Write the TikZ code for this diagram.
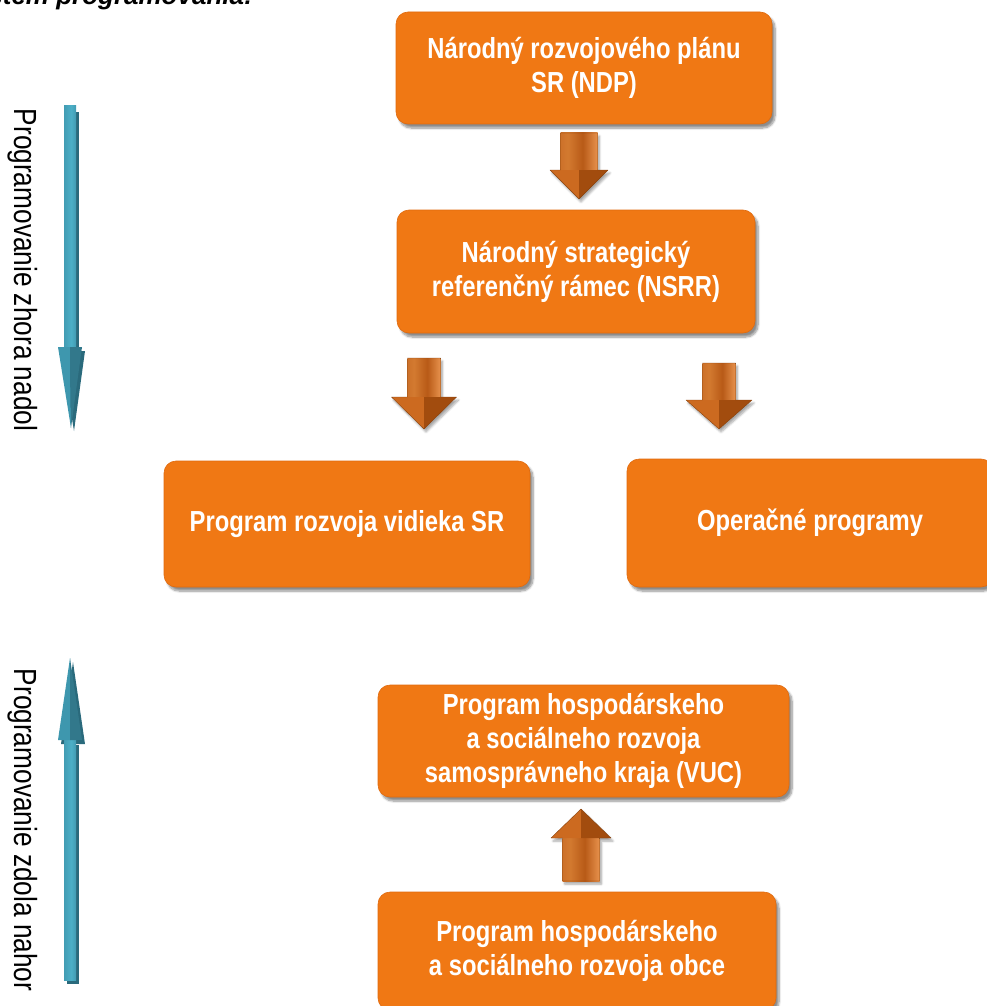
\documentclass[tikz,border=0pt]{standalone}
\usepackage{fontspec}
\setmainfont{Liberation Sans}
\newfontfamily\narrowfont{Liberation Sans}[FakeStretch=0.82]
\usetikzlibrary{calc,shadows.blur}
\definecolor{boxmain}{HTML}{F07814}
\definecolor{boxtopc}{HTML}{F59A4E}
\definecolor{boxbotc}{HTML}{D9640C}
\definecolor{boxedge}{HTML}{E06A0E}
\definecolor{orA}{HTML}{C56622}
\definecolor{orB}{HTML}{D37A30}
\definecolor{orC}{HTML}{B85A17}
\definecolor{orD}{HTML}{EE9A55}
\definecolor{orE}{HTML}{A9510F}
\definecolor{orHL}{HTML}{CC6A20}
\definecolor{orHR}{HTML}{A24C0E}
\definecolor{blueL}{HTML}{3A8CA3}
\definecolor{blueM}{HTML}{4CAFC7}
\definecolor{blueR}{HTML}{368297}
\definecolor{blueD}{HTML}{2A6A7C}
\definecolor{blueHL}{HTML}{3E97AE}
\definecolor{blueHR}{HTML}{32788B}
\pgfdeclareverticalshading{boxshade}{100bp}{color(0bp)=(boxbotc); color(6bp)=(boxmain); color(90bp)=(boxmain); color(100bp)=(boxtopc)}
\pgfdeclarehorizontalshading{orshaft}{100bp}{color(0bp)=(orC); color(12bp)=(orA); color(35bp)=(orB); color(55bp)=(orC); color(78bp)=(orD); color(92bp)=(orD); color(100bp)=(orE)}
\pgfdeclarehorizontalshading{blueshaft}{100bp}{color(0bp)=(blueL); color(55bp)=(blueM); color(100bp)=(blueR)}
% block arrow: name, tip x, tip y, total length, head length, shaft half width, head half width
\newcommand\orblockarrow[7]{%
  \coordinate (#1-tip) at (#2,#3);
  \coordinate (#1-end) at (#2,#3-#4);
  \path[blur shadow={shadow xshift=2pt,shadow yshift=-3pt,shadow opacity=35,shadow blur steps=6}]
    (#2-#6,#3-#4) -- (#2+#6,#3-#4) -- (#2+#6,#3-#5) -- (#2+#7,#3-#5) -- (#1-tip)
    -- (#2-#7,#3-#5) -- (#2-#6,#3-#5) -- cycle;
  \fill[shading=orshaft] (#2-#6,#3-#4) rectangle (#2+#6,#3-#5);
  \fill[orHL] (#2-#7,#3-#5) -- (#2,#3-#5) -- (#1-tip) -- cycle;
  \fill[orHR] (#2,#3-#5) -- (#2+#7,#3-#5) -- (#1-tip) -- cycle;
  \draw[orE!80!black, line width=0.4pt, line join=round]
    (#2-#6,#3-#4) -- (#2+#6,#3-#4) -- (#2+#6,#3-#5) -- (#2+#7,#3-#5) -- (#1-tip)
    -- (#2-#7,#3-#5) -- (#2-#6,#3-#5) -- cycle;
}
\begin{document}
\begin{tikzpicture}[x=1pt,y=-1pt,
  box/.style={rounded corners=12pt, draw=boxedge, line width=0.6pt, shading=boxshade,
    text=white, font=\narrowfont\bfseries\fontsize{29}{34}\selectfont, align=center, inner sep=0pt,
    blur shadow={shadow xshift=3pt, shadow yshift=-4pt, shadow opacity=45, shadow blur steps=8}},
  sidetext/.style={font=\narrowfont\fontsize{32}{36}\selectfont, rotate=-90, inner sep=0pt},
  titletext/.style={font=\bfseries\itshape\fontsize{26}{30}\selectfont, inner sep=0pt}]
\useasboundingbox (0,0) rectangle (987,1006);

% title (cut at top)
\node[titletext, anchor=base east] (title) at (253,5) {Systém programovania:};

% boxes
\node[box, minimum width=376pt, minimum height=112pt] (ndp) at (584,68)
  {Národný rozvojového plánu\\SR (NDP)};
\node[box, minimum width=358pt, minimum height=123pt] (nsrr) at (576,271.5)
  {Národný strategický\\referenčný rámec (NSRR)};
\node[box, minimum width=366pt, minimum height=126pt] (prv) at (347,524)
  {Program rozvoja vidieka SR};
\node[box, minimum width=366pt, minimum height=128pt] (op) at (810,523)
  {Operačné programy};
\node[box, minimum width=411pt, minimum height=112pt] (vuc) at (583.5,741)
  {Program hospodárskeho\\a sociálneho rozvoja\\samosprávneho kraja (VUC)};
\node[box, minimum width=398pt, minimum height=118pt] (obce) at (577,951)
  {Program hospodárskeho\\a sociálneho rozvoja obce};

% orange block arrows
\orblockarrow{a1}{579}{199}{66}{29}{18.5}{29}
\orblockarrow{a2}{424}{429}{71}{32}{16.5}{32.5}
\orblockarrow{a3}{719}{429}{66}{29}{16.5}{33}
\orblockarrow{a4}{581}{809}{-72}{-29}{18.5}{30}

% blue arrow down
\coordinate (bd-start) at (70,106);
\coordinate (bd-tip) at (71,428);
\fill[blueD] (67,112) rectangle (79,351);
\fill[blueD] (61,351) -- (85,351) -- (74,431) -- cycle;
\fill[shading=blueshaft] (64,106) rectangle (76,348);
\fill[blueHL] (58,347) -- (70,347) -- (bd-tip) -- cycle;
\fill[blueHR] (70,347) -- (82,347) -- (bd-tip) -- cycle;
\node[sidetext] (zhora) at (23,270) {Programovanie zhora nadol};

% blue arrow up
\coordinate (bu-start) at (70,980);
\coordinate (bu-tip) at (70,658);
\fill[blueD] (67,745) rectangle (79,984);
\fill[blueD] (61,744) -- (85,744) -- (73,662) -- cycle;
\fill[shading=blueshaft] (64,738) rectangle (76,980);
\fill[blueHL] (58,740) -- (70,740) -- (bu-tip) -- cycle;
\fill[blueHR] (70,740) -- (82,740) -- (bu-tip) -- cycle;
\node[sidetext] (zdola) at (23,830) {Programovanie zdola nahor};
\end{tikzpicture}
\end{document}
